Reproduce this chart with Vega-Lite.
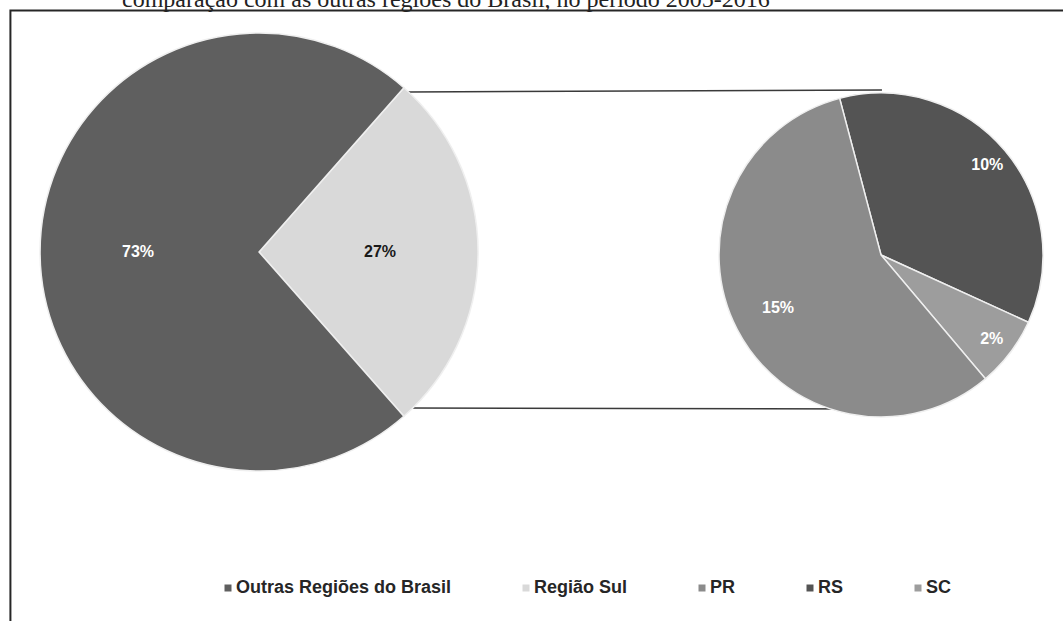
{
  "$schema": "https://vega.github.io/schema/vega-lite/v6.json",
  "width": 1063,
  "height": 621,
  "autosize": "none",
  "padding": 0,
  "background": "white",
  "config": {"view": {"stroke": null}},
  "layer": [
    {
      "data": {"values": [{"elemento": "moldura"}]},
      "mark": {"type": "rect", "filled": false, "stroke": "#262626", "strokeWidth": 2, "clip": true},
      "encoding": {
        "x": {"datum": 0.98, "type": "quantitative", "scale": {"domain": [0, 100], "nice": false, "zero": false}, "axis": null},
        "x2": {"datum": 101},
        "y": {"datum": 1.68, "type": "quantitative", "scale": {"domain": [0, 100], "nice": false, "zero": false, "reverse": true}, "axis": null},
        "y2": {"datum": 101}
      }
    },
    {
      "data": {"values": [{"legenda": "comparação com as outras regiões do Brasil, no período 2005-2016"}]},
      "mark": {"type": "text", "font": "Liberation Serif", "fontSize": 24, "color": "#222222", "align": "left", "baseline": "alphabetic", "clip": true},
      "encoding": {
        "x": {"datum": 11.48, "type": "quantitative"},
        "y": {"datum": 1.05, "type": "quantitative"},
        "text": {"field": "legenda"}
      }
    },
    {
      "data": {"values": [{"linha": "superior"}]},
      "mark": {"type": "rule", "stroke": "#3a3a3a", "strokeWidth": 1.6},
      "encoding": {
        "x": {"datum": 38.38, "type": "quantitative"},
        "x2": {"datum": 82.97},
        "y": {"datum": 14.81, "type": "quantitative"},
        "y2": {"datum": 14.49}
      }
    },
    {
      "data": {"values": [{"linha": "inferior"}]},
      "mark": {"type": "rule", "stroke": "#3a3a3a", "strokeWidth": 1.6},
      "encoding": {
        "x": {"datum": 38.38, "type": "quantitative"},
        "x2": {"datum": 82.88},
        "y": {"datum": 65.7, "type": "quantitative"},
        "y2": {"datum": 65.86}
      }
    },
    {
      "data": {"values": [
        {"categoria": "Região Sul", "valor": 0.27, "ordem": 1},
        {"categoria": "Outras Regiões do Brasil", "valor": 0.73, "ordem": 2}
      ]},
      "encoding": {
        "theta": {"field": "valor", "type": "quantitative", "stack": true, "scale": {"range": [0.7226, 7.0058]}},
        "order": {"field": "ordem", "type": "quantitative"},
        "x": {"datum": 24.37, "type": "quantitative"},
        "y": {"datum": 40.58, "type": "quantitative"}
      },
      "layer": [
        {
          "mark": {"type": "arc", "radius": 219, "stroke": "#efefef", "strokeWidth": 1.5},
          "encoding": {
            "color": {
              "field": "categoria",
              "type": "nominal",
              "scale": {
                "domain": ["Outras Regiões do Brasil", "Região Sul", "PR", "RS", "SC"],
                "range": ["#5f5f5f", "#d9d9d9", "#8b8b8b", "#545454", "#9d9d9d"]
              },
              "legend": {
                "title": null,
                "orient": "none",
                "direction": "horizontal",
                "legendX": 219,
                "legendY": 579,
                "padding": 0,
                "symbolType": "square",
                "symbolSize": 49,
                "symbolStrokeWidth": 0,
                "labelFont": "Liberation Sans",
                "labelFontWeight": "bold",
                "labelFontSize": 18,
                "labelColor": "#262626",
                "labelOffset": -1,
                "columnPadding": 65,
                "labelLimit": 400
              }
            }
          }
        },
        {
          "mark": {"type": "text", "radius": 121, "font": "Liberation Sans", "fontWeight": "bold", "fontSize": 16},
          "encoding": {
            "detail": {"field": "categoria"},
            "text": {"field": "valor", "type": "quantitative", "format": ".0%"},
            "color": {"condition": {"test": "datum.categoria === 'Região Sul'", "value": "#1a1a1a"}, "value": "#ffffff"}
          }
        }
      ]
    },
    {
      "data": {"values": [
        {"categoria": "RS", "valor": 0.097, "ordem": 1},
        {"categoria": "SC", "valor": 0.019, "ordem": 2},
        {"categoria": "PR", "valor": 0.154, "ordem": 3}
      ]},
      "encoding": {
        "theta": {"field": "valor", "type": "quantitative", "stack": true, "scale": {"range": [-0.2583, 6.0249]}},
        "order": {"field": "ordem", "type": "quantitative"},
        "x": {"datum": 82.88, "type": "quantitative"},
        "y": {"datum": 41.06, "type": "quantitative"}
      },
      "layer": [
        {
          "mark": {"type": "arc", "radius": 162, "stroke": "#efefef", "strokeWidth": 1.5},
          "encoding": {
            "color": {"field": "categoria", "type": "nominal"}
          }
        },
        {
          "mark": {"type": "text", "radius": 139, "font": "Liberation Sans", "fontWeight": "bold", "fontSize": 16, "color": "#ffffff"},
          "encoding": {
            "detail": {"field": "categoria"},
            "text": {"field": "valor", "type": "quantitative", "format": ".0%"},
            "opacity": {"condition": {"test": "datum.categoria !== 'PR'", "value": 1}, "value": 0}
          }
        },
        {
          "mark": {"type": "text", "radius": 116, "font": "Liberation Sans", "fontWeight": "bold", "fontSize": 16, "color": "#ffffff"},
          "encoding": {
            "detail": {"field": "categoria"},
            "text": {"field": "valor", "type": "quantitative", "format": ".0%"},
            "opacity": {"condition": {"test": "datum.categoria === 'PR'", "value": 1}, "value": 0}
          }
        }
      ]
    }
  ],
  "resolve": {"scale": {"theta": "independent"}}
}
